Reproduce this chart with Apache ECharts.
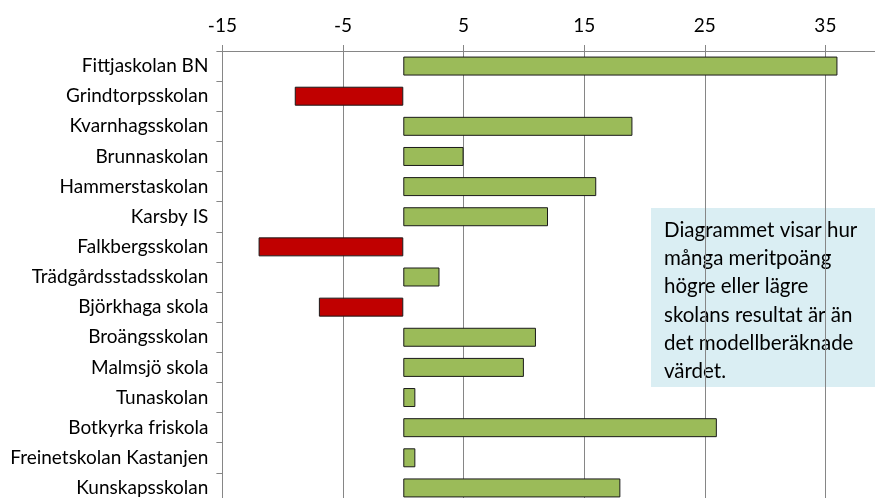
<!DOCTYPE html>
<html>
<head>
<meta charset="utf-8">
<script src="https://cdn.jsdelivr.net/npm/echarts@6/dist/echarts.min.js"></script>
<style>
html,body{margin:0;padding:0;overflow:hidden;width:875px;height:498px;background:#fff;}
#c{width:960px;height:520px;}
</style>
</head>
<body>
<div id="c"></div>
<script>
const categories = ["Fittjaskolan BN","Grindtorpsskolan","Kvarnhagsskolan","Brunnaskolan","Hammerstaskolan","Karsby IS","Falkbergsskolan","Trädgårdsstadsskolan","Björkhaga skola","Broängsskolan","Malmsjö skola","Tunaskolan","Botkyrka friskola","Freinetskolan Kastanjen","Kunskapsskolan"];
const values = [36, -9, 19, 5, 16, 12, -12, 3, -7, 11, 10, 1, 26, 1, 18];
const noteLines = ["Diagrammet visar hur","många meritpoäng","högre eller lägre","skolans resultat är än","det modellberäknade","värdet."];

const FONT = "Lato";
const chart = echarts.init(document.getElementById('c'), null, {renderer:'canvas'});
chart.setOption({
  animation:false,
  grid:{left:222.4, top:51, right:12.8, bottom:17, containLabel:false},
  xAxis:{
    type:'value', position:'top', min:-15, max:45, interval:10,
    axisLine:{show:true, lineStyle:{color:'#868686', width:1}},
    axisTick:{show:true, length:6, lineStyle:{color:'#868686'}},
    splitLine:{show:true, lineStyle:{color:'#868686', width:1}},
    axisLabel:{color:'#000', fontFamily:FONT, fontSize:19, margin:16}
  },
  yAxis:[{
    type:'category', data:categories, inverse:true, position:'left',
    axisLine:{show:false}, axisTick:{show:false},
    axisLabel:{color:'#000', fontFamily:FONT, fontSize:19, margin:14}
  },{
    type:'category', data:categories, inverse:true, position:'left',
    axisLine:{show:true, onZero:true, lineStyle:{color:'#868686', width:1}},
    axisTick:{show:true, length:6, lineStyle:{color:'#868686'}},
    axisLabel:{show:false}
  }],
  series:[{
    type:'bar', yAxisIndex:0, barCategoryGap:'37%',
    data: values.map(v => ({value:v, itemStyle:{color: v < 0 ? '#C00000' : '#9BBB59'}})),
    itemStyle:{borderColor:'#1a1a1a', borderWidth:1}
  }],
  graphic:[{
    type:'group', left:651, top:208,
    children:[
      {type:'rect', shape:{x:0,y:0,width:300,height:179}, style:{fill:'#DAEEF3'}},
      {type:'text', x:13, y:8, style:{text:noteLines.join('\n'), fill:'#000', font:'20.5px "' + FONT + '"', lineHeight:28.3}}
    ]
  }]
});
</script>
</body>
</html>
